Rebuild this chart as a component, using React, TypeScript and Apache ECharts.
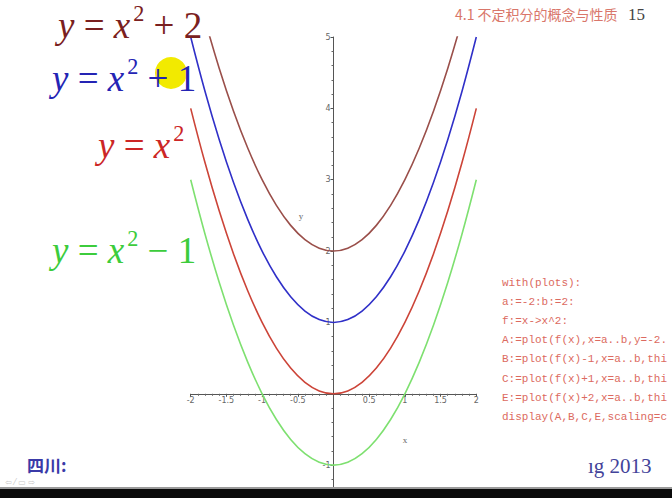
import React, { useEffect, useRef } from "react";
import * as echarts from "echarts";

const xs = [-2, -1.8, -1.6, -1.4, -1.2, -1, -0.8, -0.6, -0.4, -0.2, 0, 0.2, 0.4, 0.6, 0.8, 1, 1.2, 1.4, 1.6, 1.8, 2];
const yPlus2 = [6, 5.24, 4.56, 3.96, 3.44, 3, 2.64, 2.36, 2.16, 2.04, 2, 2.04, 2.16, 2.36, 2.64, 3, 3.44, 3.96, 4.56, 5.24, 6];
const yPlus1 = [5, 4.24, 3.56, 2.96, 2.44, 2, 1.64, 1.36, 1.16, 1.04, 1, 1.04, 1.16, 1.36, 1.64, 2, 2.44, 2.96, 3.56, 4.24, 5];
const yBase = [4, 3.24, 2.56, 1.96, 1.44, 1, 0.64, 0.36, 0.16, 0.04, 0, 0.04, 0.16, 0.36, 0.64, 1, 1.44, 1.96, 2.56, 3.24, 4];
const yMinus1 = [3, 2.24, 1.56, 0.96, 0.44, 0, -0.36, -0.64, -0.84, -0.96, -1, -0.96, -0.84, -0.64, -0.36, 0, 0.44, 0.96, 1.56, 2.24, 3];

const seriesNames = ["E", "C", "A", "B"];
const seriesColors = ["#9a4f4a", "#3030c8", "#cc4438", "#7ee070"];
const seriesValues = [yPlus2, yPlus1, yBase, yMinus1];

const codeLines = [
  "with(plots):",
  "a:=-2:b:=2:",
  "f:=x->x^2:",
  "A:=plot(f(x),x=a..b,y=-2.",
  "B:=plot(f(x)-1,x=a..b,thi",
  "C:=plot(f(x)+1,x=a..b,thi",
  "E:=plot(f(x)+2,x=a..b,thi",
  "display(A,B,C,E,scaling=c",
];

const SERIF = "'Liberation Serif', 'Times New Roman', serif";

function formula(text: string, x: number, y: number, color: string, size: number) {
  return {
    type: "text",
    x,
    y,
    z: 20,
    style: {
      text,
      fill: color,
      verticalAlign: "middle",
      rich: {
        i: { fontFamily: SERIF, fontStyle: "italic", fontSize: size, fill: color },
        n: { fontFamily: SERIF, fontSize: size, fill: color },
        s: { fontFamily: SERIF, fontSize: size * 0.6, fill: color, padding: [0, 0, size * 0.6, 3] },
      },
    },
  };
}

export default function App() {
  const ref = useRef<HTMLDivElement>(null);
  useEffect(() => {
    if (!ref.current) return;
    const chart = echarts.init(ref.current, null, { renderer: "svg" });
    const axisStyle = { color: "#555", width: 1 };
    const gridTop = 37;
    const gridH = 499.5;
    const gridLeft = 190.7;
    const gridW = 285.6;
    const zeroY = gridTop + (gridH * 5) / 7;
    const zeroX = gridLeft + gridW / 2;
    const graphics: any[] = [
      { type: "circle", shape: { cx: 171, cy: 73, r: 16 }, style: { fill: "#f2ea00" }, z: 10 },
      formula("{i|y}{n| = }{i|x}{s|2}{n| + 2}", 58, 25, "#7a2020", 37),
      formula("{i|y}{n| = }{i|x}{s|2}{n| + 1}", 52, 78, "#2424b4", 37),
      formula("{i|y}{n| = }{i|x}{s|2}", 98, 145, "#cc2626", 37),
      formula("{i|y}{n| = }{i|x}{s|2}{n| − 1}", 52, 250, "#3ccc3c", 37),
      {
        type: "text", x: 455, y: 14, z: 20,
        style: { text: "4.1 不定积分的概念与性质", fill: "#d9766a", fontSize: 14, fontFamily: "'Noto Sans CJK SC', serif", verticalAlign: "middle" },
      },
      {
        type: "text", x: 628, y: 14, z: 20,
        style: { text: "15", fill: "#444", fontSize: 17, fontFamily: SERIF, verticalAlign: "middle" },
      },
      ...codeLines.map((t, i) => ({
        type: "text", x: 502, y: 283 + i * 19.1, z: 20,
        style: { text: t, fill: "#dc6a60", fontSize: 11, fontFamily: "'Liberation Mono', monospace", verticalAlign: "middle" },
      })),
      { type: "text", x: 301, y: 216, z: 20, style: { text: "y", fill: "#666", fontSize: 9, fontFamily: SERIF, align: "center", verticalAlign: "middle" } },
      { type: "text", x: 405, y: 440, z: 20, style: { text: "x", fill: "#666", fontSize: 9, fontFamily: SERIF, align: "center", verticalAlign: "middle" } },
      {
        type: "text", x: 27, y: 464, z: 20,
        style: { text: "四川:", fill: "#3a3aa8", fontSize: 17, fontWeight: "bold", fontFamily: "'Noto Sans CJK SC', serif", verticalAlign: "middle" },
      },
      {
        type: "text", x: 588, y: 466, z: 20,
        style: { text: "ıg 2013", fill: "#43439a", fontSize: 21, fontFamily: SERIF, verticalAlign: "middle" },
      },
      {
        type: "text", x: 5, y: 482, z: 20,
        style: { text: "⇦ ⁄ ▭ ⇨", fill: "#c8c8c8", fontSize: 8, fontFamily: "'DejaVu Sans', sans-serif", verticalAlign: "middle" },
      },
      { type: "rect", shape: { x: 0, y: 487, width: 672, height: 2 }, style: { fill: "#9a9a9a" }, z: 30 },
      { type: "rect", shape: { x: 0, y: 489, width: 672, height: 9 }, style: { fill: "#0a0a0a" }, z: 30 },
    ];
    chart.setOption({
      animation: false,
      backgroundColor: "#ffffff",
      grid: { left: gridLeft, top: gridTop, width: gridW, height: gridH, containLabel: false, outerBoundsMode: "none" },
      xAxis: {
        type: "value",
        position: "bottom",
        offset: -(gridTop + gridH - zeroY),
        min: -2,
        max: 2,
        interval: 0.5,
        axisLine: { onZero: false, lineStyle: axisStyle },
        axisTick: { show: true, length: 3, lineStyle: axisStyle },
        minorTick: { show: true, splitNumber: 5, length: 2, lineStyle: { color: "#666" } },
        splitLine: { show: false },
        axisLabel: {
          color: "#666",
          fontSize: 8,
          margin: 3,
          fontFamily: "'DejaVu Sans', sans-serif",
          formatter: (v: number) => (v === 0 ? "" : String(v)),
        },
      },
      yAxis: {
        type: "value",
        position: "left",
        offset: -(zeroX - gridLeft),
        min: -2,
        max: 5,
        interval: 1,
        axisLine: { onZero: false, lineStyle: axisStyle },
        axisTick: { show: true, length: 3, lineStyle: axisStyle },
        minorTick: { show: true, splitNumber: 5, length: 2, lineStyle: { color: "#666" } },
        splitLine: { show: false },
        axisLabel: {
          color: "#666",
          fontSize: 8,
          margin: 3,
          fontFamily: "'DejaVu Sans', sans-serif",
          formatter: (v: number) => (v === 0 || v === -2 ? "" : String(v)),
        },
      },
      series: seriesValues.map((vals, k) => ({
        name: seriesNames[k],
        type: "line",
        smooth: 0.4,
        symbol: "none",
        clip: true,
        lineStyle: { color: seriesColors[k], width: 1.6 },
        data: xs.map((x, i) => [x, vals[i]]),
        z: 3,
      })),
      graphic: graphics,
    });
    return () => chart.dispose();
  }, []);
  return (
    <div
      ref={ref}
      style={{ position: "fixed", left: 0, top: 0, width: 672, height: 498, background: "#fff" }}
    />
  );
}
